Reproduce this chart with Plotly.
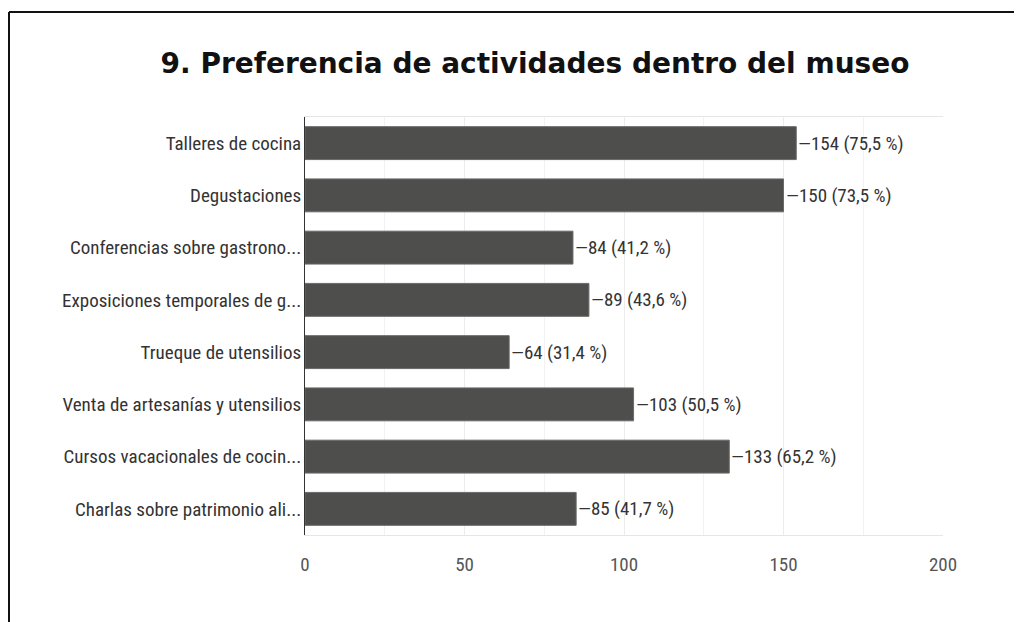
import plotly.graph_objects as go

categories = [
    "Talleres de cocina",
    "Degustaciones",
    "Conferencias sobre gastrono...",
    "Exposiciones temporales de g...",
    "Trueque de utensilios",
    "Venta de artesanías y utensilios",
    "Cursos vacacionales de cocin...",
    "Charlas sobre patrimonio ali...",
]
values = [154, 150, 84, 89, 64, 103, 133, 85]
percents = ["75,5", "73,5", "41,2", "43,6", "31,4", "50,5", "65,2", "41,7"]
x_ticks = [0, 50, 100, 150, 200]

narrow = "Liberation Sans Narrow, Roboto Condensed, Arial Narrow, Liberation Sans, sans-serif"

fig = go.Figure()
fig.add_trace(go.Bar(
    y=categories,
    x=values,
    orientation="h",
    marker=dict(color="#4e4e4d", line=dict(color="#6a6a6a", width=1)),
    hoverinfo="skip",
))

for c, v, p in zip(categories, values, percents):
    fig.add_annotation(
        x=v, y=c, xref="x", yref="y",
        text=f"—{v} ({p} %)",
        showarrow=False, xanchor="left", yanchor="middle",
        xshift=0,
        font=dict(family=narrow, size=19, color="#333333"),
    )

# page body has an 8px margin, so the figure is sized to fill the window
OFF = 8
W, H = 1022 - OFF, 622 - OFF
ml, mt = 305 - OFF, 117 - OFF
mr, mb = W - (943 - OFF), H - (535 - OFF)
pw, ph = W - ml - mr, H - mt - mb

# outer frame (black border, top and left visible in the picture)
fx0 = (9 - OFF - ml) / pw
fy1 = (H - mb - (12 - OFF)) / ph
fig.add_shape(type="line", xref="paper", yref="paper",
              x0=fx0, x1=(W + 20 - ml) / pw, y0=fy1, y1=fy1,
              line=dict(color="#111111", width=2))
fig.add_shape(type="line", xref="paper", yref="paper",
              x0=fx0, x1=fx0, y0=fy1, y1=(-(mb + 20)) / ph,
              line=dict(color="#111111", width=2))

fig.update_layout(
    width=W, height=H,
    margin=dict(l=ml, r=mr, t=mt, b=mb),
    paper_bgcolor="white", plot_bgcolor="white",
    bargap=0.37,
    showlegend=False,
    title=dict(
        text="<b>9. Preferencia de actividades dentro del museo</b>",
        x=(535 - OFF) / W, xanchor="center",
        y=1 - (63 - OFF) / H, yanchor="middle",
        font=dict(family="DejaVu Sans, Liberation Sans, Arial, sans-serif", size=28, color="#111111"),
    ),
    xaxis=dict(
        range=[0, 200],
        tickvals=x_ticks,
        ticktext=[str(t) for t in x_ticks],
        showgrid=True, gridcolor="#ececec", gridwidth=1,
        minor=dict(dtick=25, showgrid=True, gridcolor="#f2f2f2"),
        zeroline=False,
        showline=True, linecolor="#e6e6e6", mirror=True,
        tickfont=dict(family=narrow, size=19, color="#555555"),
        ticks="", ticklabelstandoff=12,
        fixedrange=True,
    ),
    yaxis=dict(
        categoryorder="array", categoryarray=categories,
        autorange="reversed",
        showgrid=False, zeroline=False,
        showline=True, linecolor="#333333", linewidth=1,
        tickfont=dict(family=narrow, size=19, color="#333333"),
        ticks="", ticklabelstandoff=-1,
        fixedrange=True,
    ),
)

fig.write_html("out.html")
